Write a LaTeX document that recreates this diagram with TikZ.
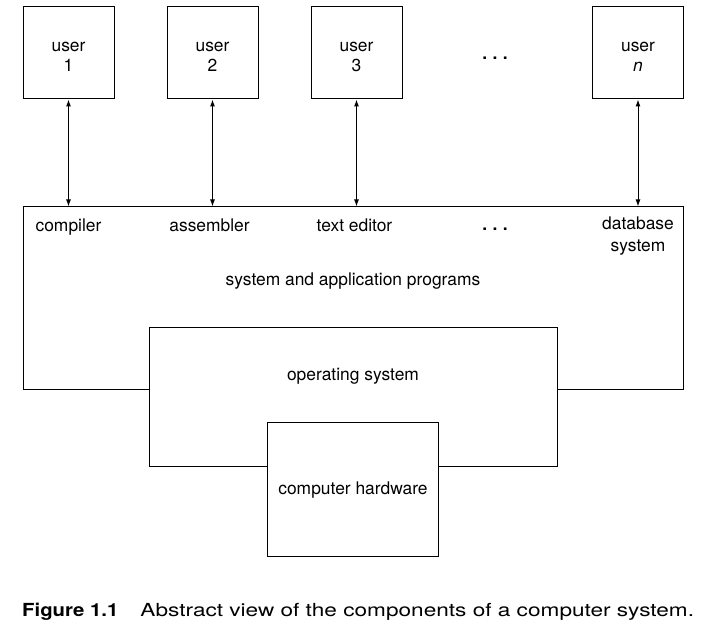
\documentclass[tikz,border=0pt]{standalone}
\usepackage{fontspec}
\setmainfont{TeX Gyre Heros}
\newfontfamily\capwide[FakeStretch=1.255]{TeX Gyre Heros}
\newfontfamily\capbold[FakeStretch=1.13]{TeX Gyre Heros}
\usetikzlibrary{arrows,arrows.meta,positioning}
\newcommand{\lblfont}{\fontsize{17.4}{20.5}\selectfont}
\newcommand{\capfont}{\fontsize{18}{22}\selectfont}
\newcommand{\bigdots}{\textbf{.\hspace{5.5pt}.\hspace{5.5pt}.}}

\begin{document}
\begin{tikzpicture}[x=1pt,y=-1pt,
    box/.style={draw,line width=1pt,fill=white,inner sep=0pt},
    lbl/.style={font=\lblfont,align=center,inner sep=0pt},
    user/.style={box,minimum width=91pt,minimum height=92pt,
        label={[lbl,yshift=-4pt]center:#1}},
    link/.style={{Latex[length=7pt,width=5pt]}-{Latex[length=7pt,width=5pt]},line width=1pt}]
    \useasboundingbox (0,0) rectangle (711,636);

    % layers, outer first
    \node[box,minimum width=660pt,minimum height=182pt] (apps) at (353,298) {};
    \node[box,minimum width=408pt,minimum height=139pt] (os) at (353,396.5) {};
    \node[box,minimum width=171pt,minimum height=134pt,
        label={[lbl,yshift=-1.5pt]center:computer hardware}] (hw) at (353,489) {};

    % users
    \node[user={user\\1}] (u1) at (68.5,53) {};
    \node[user={user\\2},right=52pt of u1] (u2) {};
    \node[user={user\\3},right=52pt of u2] (u3) {};
    \node[user={user\\\textit{n}}] (un) at (638,53) {};
    \node[lbl] (udots) at (495,58) {\bigdots};

    % programs
    \node[lbl,anchor=base] (comp) at (68.5,231) {compiler};
    \node[lbl,anchor=base] (asm) at (209.5,231) {assembler};
    \node[lbl,anchor=base] (edit) at (354.5,231) {text editor};
    \node[lbl] (pdots) at (495,229) {\bigdots};
    \node[lbl,font=\fontsize{17.4}{22}\selectfont] (db) at (638,236) {database\\system};
    \node[lbl] (appsname) at (353,281) {system and application programs};
    \node[lbl] (osname) at (353,376.5) {operating system};

    \foreach \u in {u1,u2,u3,un}
        \draw[link] (\u.south) -- (\u.south |- apps.north);

    \node[font=\capfont,anchor=west,inner sep=0pt] (cap) at (22,612)
        {{\capbold\bfseries Figure 1.1}\hspace{22pt}{\capwide Abstract view of the components of a computer system.}};
\end{tikzpicture}
\end{document}
